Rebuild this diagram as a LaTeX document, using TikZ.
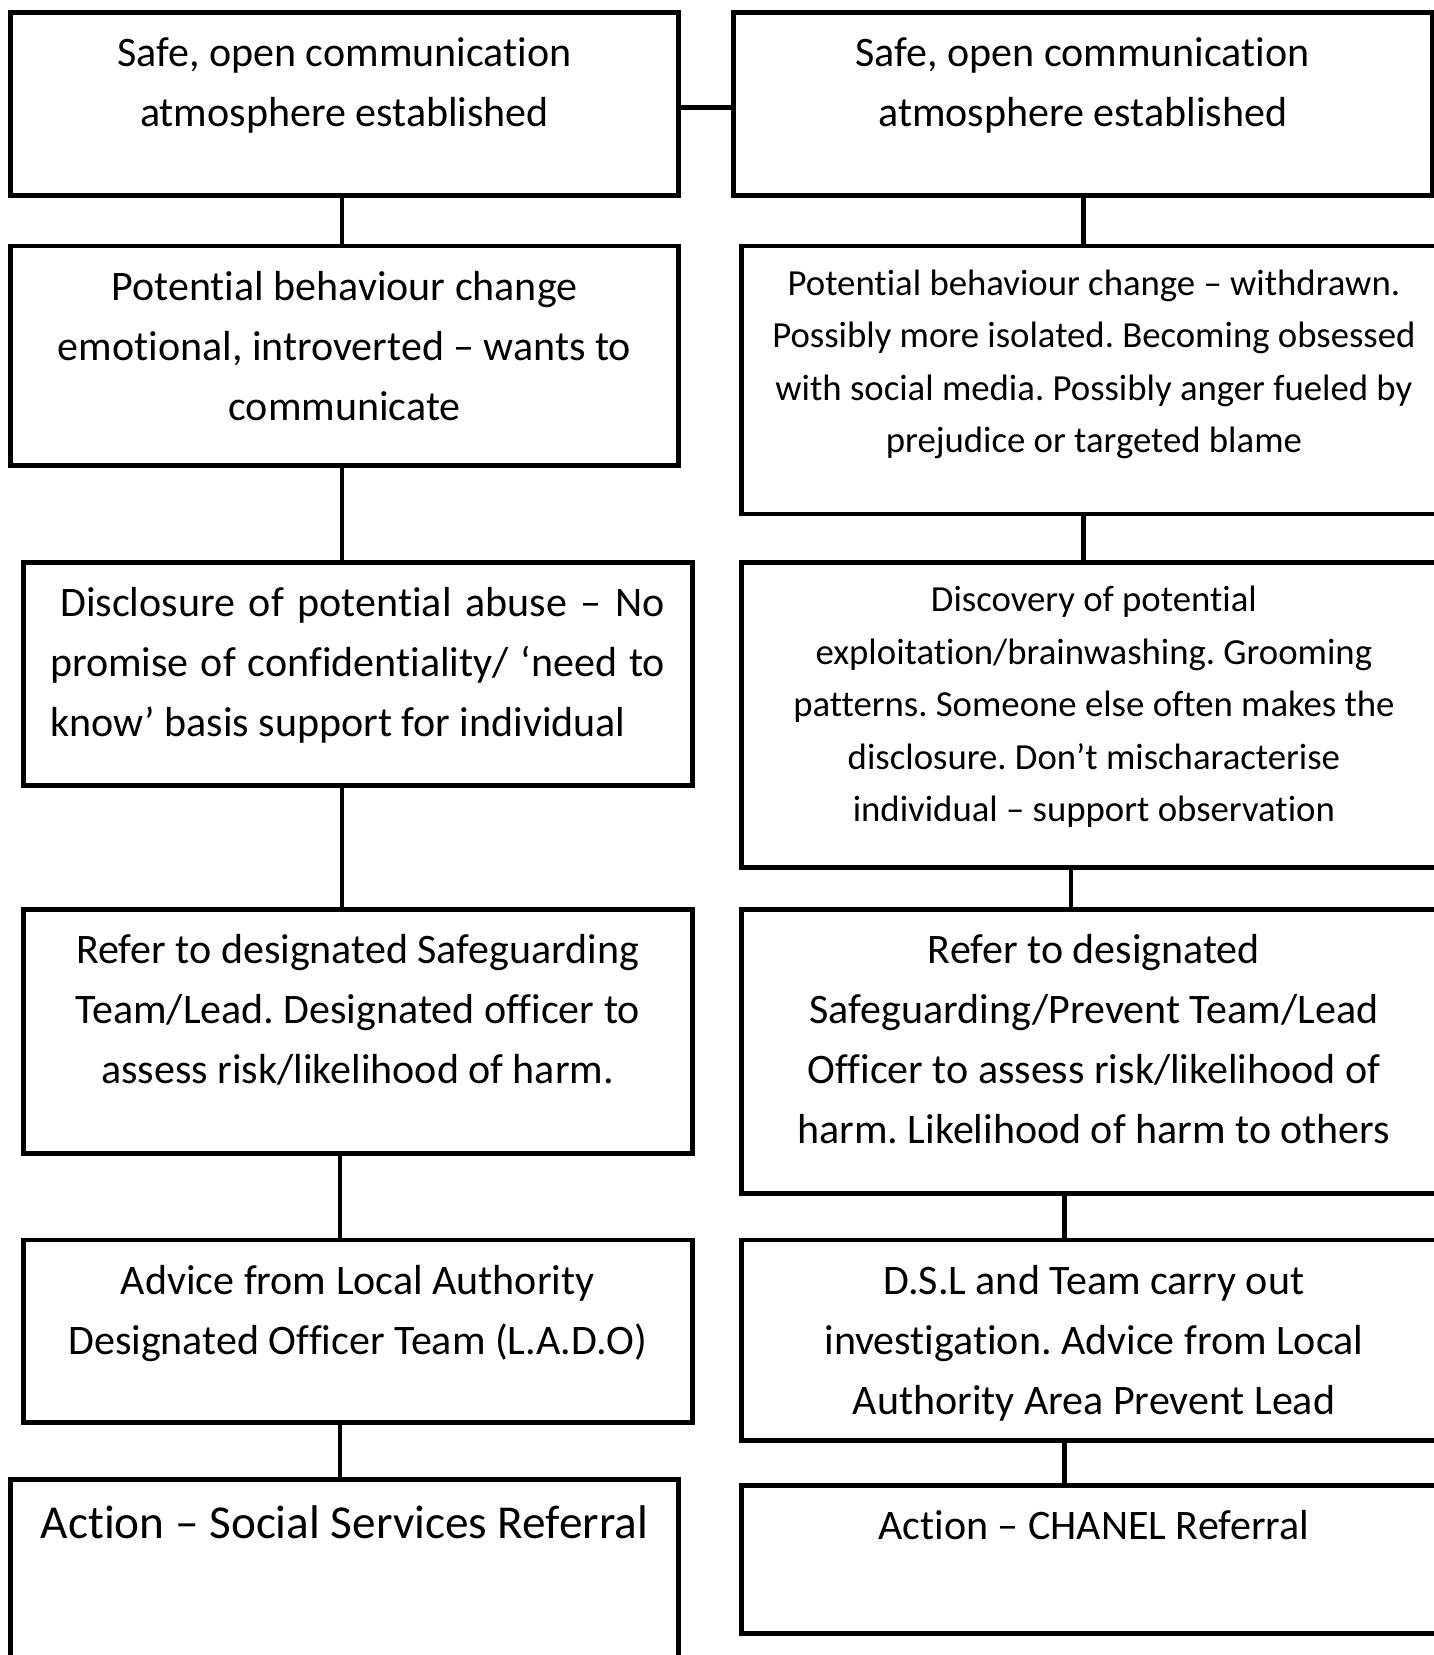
\documentclass[tikz,border=0pt]{standalone}
\usepackage{fontspec}
\setmainfont[Ligatures=NoCommon]{Carlito}
\usetikzlibrary{calc}
\newcommand*{\lw }{4.8pt}
\newcommand*{\nrm}{\fontsize{42}{60}\selectfont}
\newcommand*{\sml}{\fontsize{36.75}{52.5}\selectfont}
\newcommand*{\lrg}{\fontsize{47.25}{66}\selectfont}
\newcommand*{\gap}{25pt}
\frenchspacing

\begin{document}
\begin{tikzpicture}[x=1pt, y=-1pt, line width=\lw,
    box/.style={draw, rectangle, inner sep=0pt},
    txt/.style={anchor=north, align=center, inner sep=0pt, font=\nrm},
    link/.style={line cap=rect}]
    \path[use as bounding box, clip] (0,0) rectangle (1434,1655);
    \fill[white] (0,0) rectangle (1434,1655);
    % left column
    \node[box, minimum width=668pt, minimum height=182.5pt] (l1) at ( 344.5, 104.0) {};
    \node[box, minimum width=668pt, minimum height=219.4pt] (l2) at ( 344.5, 355.6) {};
    \node[box, minimum width=669pt, minimum height=222.7pt] (l3) at ( 357.7, 673.8) {};
    \node[box, minimum width=669pt, minimum height=243.7pt] (l4) at ( 357.7,1031.5) {};
    \node[box, minimum width=669pt, minimum height=182.5pt] (l5) at ( 357.7,1331.2) {};
    \node[box, minimum width=668pt, minimum height=220.0pt] (l6) at ( 344.5,1589.4) {};
    % right column
    \node[box, minimum width=698.6pt, minimum height=182.5pt] (r1) at (1082.7, 104.0) {};
    \node[box, minimum width=704.2pt, minimum height=268.0pt] (r2) at (1093.9, 379.9) {};
    \node[box, minimum width=704.2pt, minimum height=305.0pt] (r3) at (1093.9, 714.9) {};
    \node[box, minimum width=704.2pt, minimum height=283.8pt] (r4) at (1093.9,1051.5) {};
    \node[box, minimum width=704.2pt, minimum height=200.5pt] (r5) at (1093.9,1340.2) {};
    \node[box, minimum width=704.2pt, minimum height=147.8pt] (r6) at (1093.9,1559.6) {};

    \node[txt] (l1t) at ([yshift=-\gap]l1.north) {Safe, open communication\\atmosphere established};
    \node[txt] (l2t) at ([yshift=-\gap]l2.north) {Potential behaviour change\\emotional, introverted -- wants to\\communicate};
    \node[txt, align=justify, text width=615pt] (l3t) at ([yshift=-\gap]l3.north)
        {\hspace*{10pt}Disclosure of potential abuse -- No\linebreak promise of confidentiality/ ‘need to\linebreak know’ basis support for individual};
    \node[txt] (l4t) at ([yshift=-\gap]l4.north) {Refer to designated Safeguarding\\Team/Lead. Designated officer to\\assess risk/likelihood of harm.};
    \node[txt] (l5t) at ([yshift=-\gap]l5.north) {Advice from Local Authority\\Designated Officer Team (L.A.D.O)};
    \node[txt, font=\lrg] (l6t) at ([yshift=-\gap-1pt]l6.north) {Action -- Social Services Referral};

    \node[txt] (r1t) at ([yshift=-\gap]r1.north) {Safe, open communication\\atmosphere established};
    \node[txt, font=\sml] (r2t) at ([yshift=-\gap+1pt]r2.north) {Potential behaviour change -- withdrawn.\\Possibly more isolated. Becoming obsessed\\with social media. Possibly anger fueled by\\prejudice or targeted blame};
    \node[txt, font=\sml] (r3t) at ([yshift=-\gap+1pt]r3.north) {Discovery of potential\\exploitation/brainwashing. Grooming\\patterns. Someone else often makes the\\disclosure. Don’t mischaracterise\\individual -- support observation};
    \node[txt] (r4t) at ([yshift=-\gap]r4.north) {Refer to designated\\Safeguarding/Prevent Team/Lead\\Officer to assess risk/likelihood of\\harm. Likelihood of harm to others};
    \node[txt] (r5t) at ([yshift=-\gap]r5.north) {D.S.L and Team carry out\\investigation. Advice from Local\\Authority Area Prevent Lead};
    \node[txt] (r6t) at ([yshift=-\gap]r6.north) {Action -- CHANEL Referral};

    % connectors
    \draw[link] ([yshift=-3.5pt]l1.east) -- ([yshift=-3.5pt]r1.west);
    \draw[link] ([xshift=-2.5pt]l1.south) -- ([xshift=-2.5pt]l2.north);
    \draw[link] ([xshift=-2.5pt]l2.south) -- ([xshift=-15.7pt]l3.north);
    \draw[link] ([xshift=-15.7pt]l3.south) -- ([xshift=-15.7pt]l4.north);
    \draw[link] ([xshift=-17.7pt]l4.south) -- ([xshift=-17.7pt]l5.north);
    \draw[link] ([xshift=-17.7pt]l5.south) -- ([xshift=-4.5pt]l6.north);
    \draw[link] ([xshift=1pt]r1.south) -- ([xshift=-10.2pt]r2.north);
    \draw[link] ([xshift=-10.2pt]r2.south) -- ([xshift=-10.2pt]r3.north);
    \draw[link] ([xshift=-22.9pt]r3.south) -- ([xshift=-22.9pt]r4.north);
    \draw[link] ([xshift=-29.2pt]r4.south) -- ([xshift=-29.2pt]r5.north);
    \draw[link] ([xshift=-29.2pt]r5.south) -- ([xshift=-29.2pt]r6.north);
    %\draw[link] (l6.south) -- (r6.south);
\end{tikzpicture}
\end{document}
